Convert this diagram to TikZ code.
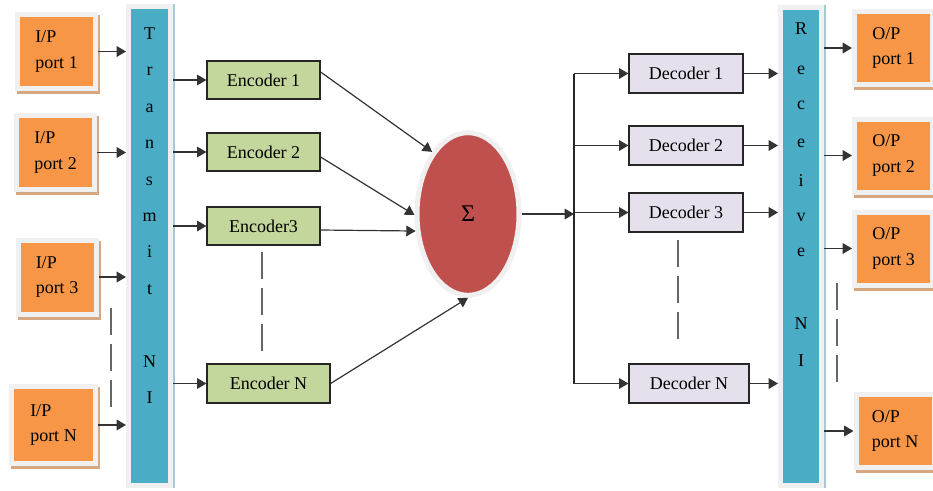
\documentclass[tikz,border=0pt]{standalone}
\usepackage{fontspec}
\setmainfont{Liberation Serif}
\usetikzlibrary{arrows.meta,shapes.geometric,shadows}

\definecolor{portorange}{HTML}{F79646}
\definecolor{framegray}{HTML}{F0F0F0}
\definecolor{shadowtan}{HTML}{D6A780}
\definecolor{barblue}{HTML}{4BACC6}
\definecolor{barshadow}{HTML}{A9C9D6}
\definecolor{encgreen}{HTML}{C3D69B}
\definecolor{declav}{HTML}{E5E0EC}
\definecolor{sumred}{HTML}{C0504D}

\tikzset{
  ioport/.style={draw=framegray, line width=3.75pt, fill=portorange,
    align=left, inner sep=0pt, minimum width=58.5pt, minimum height=55.5pt,
    drop shadow={shadow xshift=1.5pt, shadow yshift=-2.25pt,
      draw=shadowtan, fill=shadowtan, opacity=1}},
  nibar/.style={draw=framegray, line width=3.75pt, fill=barblue,
    inner sep=0pt, minimum width=31.5pt, minimum height=359pt,
    drop shadow={shadow xshift=1.5pt, shadow yshift=0pt,
      draw=barshadow, fill=barshadow, opacity=1}},
  encbox/.style={draw=black!85, line width=0.9pt, fill=encgreen,
    inner sep=0pt, minimum width=84.75pt, minimum height=28.5pt},
  decbox/.style={draw=black!85, line width=0.9pt, fill=declav,
    inner sep=0pt, minimum width=85.5pt, minimum height=29.25pt},
  sumnode/.style={ellipse, draw=framegray, line width=3.75pt, fill=sumred,
    inner sep=0pt, minimum width=76.5pt, minimum height=122pt,
    font=\fontsize{18}{20}\selectfont},
  link/.style={draw=black!80, line width=0.9pt,
    -{Triangle[length=7pt,width=8pt]}},
  wire/.style={draw=black!85, line width=0.8pt},
  gapmark/.style={draw=black!60, line width=1.1pt, dash pattern=on 20pt off 7pt}
}

\begin{document}
\begin{tikzpicture}[x=0.75pt, y=-0.75pt,
    every node/.append style={font=\fontsize{13.5}{19}\selectfont}]
  \useasboundingbox (0,0) rectangle (933,490);

  % input ports
  \node[ioport] (in1) at (56.5,51.5) {I/P\\port 1};
  \node[ioport] (in2) at (55.5,152.5) {I/P\\port 2};
  \node[ioport] (in3) at (57,277) {I/P\\port 3};
  \node[ioport, minimum width=63pt, minimum height=57.75pt] (inN) at (53.5,425) {I/P\\port N};

  % network interfaces
  \node[nibar] (tx) at (149.5,246) {};
  \node[nibar, minimum width=30.75pt] (rx) at (801,246.5) {};

  \foreach \ch/\yy [count=\k] in {T/39, r/75, a/112, n/148, s/185, m/221, i/257, t/294, N/367, I/403}
    \node[anchor=base, inner sep=0pt] (txl\k) at (149.5,\yy) {\ch};
  \foreach \ch/\yy [count=\k] in {R/34, e/74, c/109, e/147, i/186, v/221, e/256, N/329, I/366}
    \node[anchor=base, inner sep=0pt] (rxl\k) at (801,\yy) {\ch};

  % encoders
  \node[encbox] (enc1) at (263.5,80) {Encoder 1};
  \node[encbox] (enc2) at (263.5,152) {Encoder 2};
  \node[encbox] (enc3) at (263.5,226) {Encoder3};
  \node[encbox, minimum width=92.25pt, minimum height=29.25pt] (encN) at (268.5,383.5) {Encoder N};

  % adder
  \node[sumnode] (sum) at (468,214) {Σ};
  \coordinate (bus) at (574,214);

  % decoders
  \node[decbox] (dec1) at (686,73.5) {Decoder 1};
  \node[decbox] (dec2) at (686,145.5) {Decoder 2};
  \node[decbox] (dec3) at (686,212.5) {Decoder 3};
  \node[decbox, minimum width=90pt] (decN) at (689,383.5) {Decoder N};

  % output ports
  \node[ioport, minimum height=54.75pt] (out1) at (893.5,48) {O/P\\port 1};
  \node[ioport, minimum height=54.75pt] (out2) at (893.5,155.5) {O/P\\port 2};
  \node[ioport, minimum height=54.75pt] (out3) at (893.5,248.5) {O/P\\port 3};
  \node[ioport, minimum height=54.75pt] (outN) at (895,431) {O/P\\port N};

  % connections
  \foreach \p in {in1,in2,in3,inN}
    \draw[link] (\p.east) -- (\p.east -| tx.west);
  \foreach \e in {enc1,enc2,enc3,encN}
    \draw[link] (tx.east |- \e.west) -- (\e.west);

  \draw[link] ([yshift=6pt]enc1.east) -- (sum.120);
  \draw[link] ([yshift=-3.75pt]enc2.east) -- (sum.181);
  \draw[link] ([yshift=-3pt]enc3.east) -- (sum.198);
  \draw[link] (encN.east) -- (sum.south);

  \draw[link] (sum.east) -- (bus);
  \draw[wire] (bus |- dec1.west) -- (bus |- decN.west);
  \foreach \d in {dec1,dec2,dec3,decN} {
    \draw[link] (bus |- \d.west) -- (\d.west);
    \draw[link] (\d.east) -- (\d.east -| rx.west);
  }
  \foreach \o in {out1,out2,out3,outN}
    \draw[link] (rx.east |- \o.west) -- (\o.west);

  % dashed gaps
  \draw[gapmark] (111,308) -- (111,407);
  \draw[gapmark] (262,252) -- (262,351);
  \draw[gapmark] (678,240) -- (678,340);
  \draw[gapmark] (837,283) -- (837,383);
\end{tikzpicture}
\end{document}
